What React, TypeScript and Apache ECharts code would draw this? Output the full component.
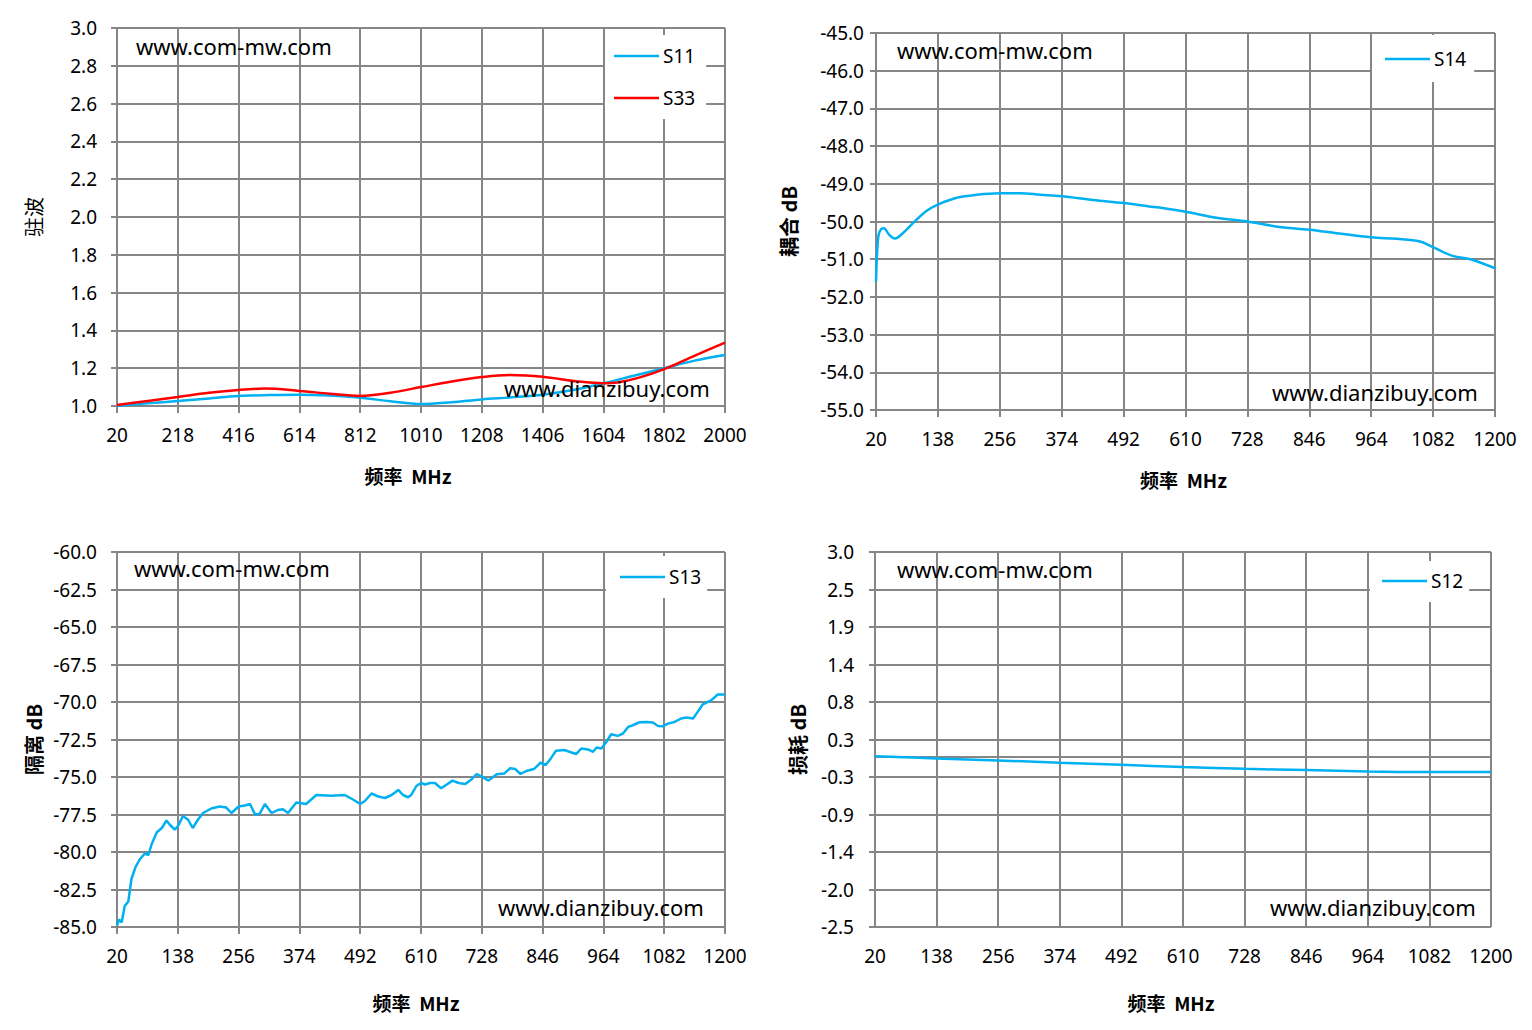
import React, { useEffect, useRef } from 'react';
import * as echarts from 'echarts';

// frequency axes (MHz)
const wideFreqTicks = [20, 218, 416, 614, 812, 1010, 1208, 1406, 1604, 1802, 2000];
const freqTicks = [20, 138, 256, 374, 492, 610, 728, 846, 964, 1082, 1200];

// y tick labels
const vswrTicks = ['1.0', '1.2', '1.4', '1.6', '1.8', '2.0', '2.2', '2.4', '2.6', '2.8', '3.0'];
const couplingTicks = ['-55.0', '-54.0', '-53.0', '-52.0', '-51.0', '-50.0', '-49.0', '-48.0', '-47.0', '-46.0', '-45.0'];
const isolationTicks = ['-85.0', '-82.5', '-80.0', '-77.5', '-75.0', '-72.5', '-70.0', '-67.5', '-65.0', '-62.5', '-60.0'];
const lossTicks = ['-2.5', '-2.0', '-1.4', '-0.9', '-0.3', '0.3', '0.8', '1.4', '1.9', '2.5', '3.0'];

// 驻波
const s11Freq = [20, 120, 218, 320, 416, 515, 614, 712, 812, 910, 1010, 1110, 1208, 1307, 1406, 1505, 1604, 1703, 1802, 1901, 2000];
const s11Vswr = [1.0, 1.014, 1.026, 1.04, 1.053, 1.058, 1.06, 1.055, 1.044, 1.025, 1.01, 1.02, 1.035, 1.046, 1.06, 1.085, 1.12, 1.16, 1.2, 1.24, 1.27];
const s33Freq = [20, 120, 218, 320, 416, 500, 614, 712, 812, 910, 1010, 1110, 1208, 1300, 1406, 1520, 1604, 1650, 1720, 1802, 1900, 2000];
const s33Vswr = [1.005, 1.027, 1.048, 1.07, 1.085, 1.092, 1.08, 1.065, 1.053, 1.07, 1.1, 1.13, 1.153, 1.164, 1.155, 1.13, 1.12, 1.124, 1.15, 1.195, 1.265, 1.335];

// 耦合 dB
const s14Freq = [20, 22, 25, 30, 35, 45, 56, 72, 90, 116, 138, 174, 212, 256, 294, 334, 374, 434, 492, 541, 560, 610, 669, 728, 782, 846, 898, 964, 1013, 1057, 1082, 1121, 1153, 1200];
const s14Db = [-51.6, -50.85, -50.35, -50.2, -50.18, -50.35, -50.45, -50.3, -50.05, -49.72, -49.55, -49.37, -49.29, -49.25, -49.25, -49.29, -49.33, -49.43, -49.51, -49.6, -49.63, -49.74, -49.9, -50.0, -50.13, -50.22, -50.31, -50.42, -50.46, -50.53, -50.68, -50.92, -51.0, -51.24];

// 隔离 dB
const s13Freq = [20, 24, 29, 35, 42, 48, 56, 64, 74, 81, 87, 97, 107, 116, 123, 132, 138, 148, 158, 167, 177, 187, 203, 219, 232, 242, 256, 268, 278, 288, 297, 307, 320, 332, 342, 352, 368, 387, 407, 436, 462, 478, 492, 501, 514, 527, 540, 553, 566, 575, 585, 591, 601, 610, 618, 627, 637, 649, 660, 671, 683, 696, 709, 718, 728, 741, 757, 772, 783, 793, 803, 816, 829, 842, 852, 862, 872, 888, 898, 911, 921, 934, 944, 951, 960, 970, 979, 992, 1002, 1012, 1021, 1034, 1047, 1060, 1070, 1079, 1089, 1102, 1115, 1125, 1138, 1147, 1157, 1173, 1186, 1200];
const s13Db = [-84.9, -84.5, -84.7, -83.6, -83.3, -81.8, -81.0, -80.5, -80.1, -80.2, -79.5, -78.7, -78.4, -77.9, -78.2, -78.5, -78.3, -77.6, -77.85, -78.4, -77.85, -77.4, -77.1, -76.97, -77.04, -77.4, -76.97, -76.9, -76.8, -77.5, -77.45, -76.8, -77.4, -77.2, -77.15, -77.4, -76.7, -76.8, -76.2, -76.25, -76.2, -76.5, -76.8, -76.6, -76.1, -76.3, -76.4, -76.2, -75.86, -76.2, -76.35, -76.2, -75.6, -75.4, -75.5, -75.4, -75.4, -75.75, -75.5, -75.24, -75.4, -75.46, -75.13, -74.8, -74.98, -75.24, -74.82, -74.76, -74.42, -74.47, -74.8, -74.58, -74.47, -74.05, -74.2, -73.76, -73.25, -73.2, -73.32, -73.47, -73.1, -73.16, -73.32, -73.03, -73.1, -72.65, -72.15, -72.26, -72.1, -71.66, -71.55, -71.35, -71.33, -71.37, -71.6, -71.62, -71.44, -71.33, -71.1, -71.04, -71.1, -70.66, -70.15, -69.89, -69.5, -69.5];

// 损耗 dB
const s12Freq = [20, 138, 256, 374, 492, 610, 728, 846, 964, 1082, 1200];
const s12Db = [0.005, -0.027, -0.057, -0.09, -0.12, -0.154, -0.18, -0.198, -0.22, -0.227, -0.227];

const grey = '#868686';
const blue = '#00B0F0';
const red = '#FF0000';
const labelFont = 'Noto Sans';
const cjkFont = 'Noto Sans CJK SC';

const pairs = (xs: number[], ys: number[]) => xs.map((x, i) => [x, ys[i]]);

// shift: how far the axis name sits left of the plot centre
function xAxisFor(ticks: number[], gridIndex: number, nameGap: number, shift: number) {
  const min = ticks[0];
  const max = ticks[ticks.length - 1];
  const interval = ticks[1] - ticks[0];
  return {
    type: 'value',
    gridIndex,
    min,
    max,
    interval,
    name: '频率  MHz',
    nameLocation: 'middle',
    nameGap,
    nameTextStyle: {
      fontFamily: cjkFont,
      fontWeight: 'bold',
      fontSize: 19,
      color: '#000',
      padding: [0, shift * 2, 0, 0],
    },
    axisLine: { lineStyle: { color: grey, width: 2 } },
    axisTick: { show: true, length: 7, lineStyle: { color: grey, width: 2 } },
    axisLabel: {
      margin: 19,
      fontFamily: labelFont,
      fontSize: 19,
      color: '#000',
      formatter: (v: number) => String(ticks[Math.round((v - min) / interval)] ?? ''),
    },
    splitLine: { show: true, lineStyle: { color: grey, width: 2 } },
  };
}

function yAxisFor(labels: string[], gridIndex: number, name: string, nameGap: number, margin: number, nameStyle: any) {
  const min = parseFloat(labels[0]);
  const max = parseFloat(labels[labels.length - 1]);
  const interval = (max - min) / (labels.length - 1);
  return {
    type: 'value',
    gridIndex,
    min,
    max,
    interval,
    name,
    nameLocation: 'middle',
    nameRotate: 90,
    nameGap,
    nameTextStyle: { fontFamily: cjkFont, fontSize: 20, color: '#000', ...nameStyle },
    axisLine: { show: true, lineStyle: { color: grey, width: 2 } },
    axisTick: { show: true, length: 6, lineStyle: { color: grey, width: 2 } },
    axisLabel: {
      margin,
      fontFamily: labelFont,
      fontSize: 19,
      color: '#000',
      formatter: (v: number) => labels[Math.round((v - min) / interval)] ?? '',
    },
    splitLine: { show: true, lineStyle: { color: grey, width: 2 } },
  };
}

function legendAt(names: string[], left: number, top: number, padding: number[]) {
  return {
    data: names,
    orient: 'vertical',
    left,
    top,
    padding,
    itemGap: 22,
    itemWidth: 45,
    itemHeight: 2.5,
    icon: 'rect',
    backgroundColor: '#fff',
    textStyle: { fontFamily: labelFont, fontSize: 19, lineHeight: 20, color: '#000', padding: [0, 0, 0, -1] },
  };
}

function lineSeries(name: string, color: string, axis: number, data: number[][], smooth: boolean) {
  return {
    type: 'line',
    name,
    xAxisIndex: axis,
    yAxisIndex: axis,
    data,
    symbol: 'none',
    smooth: smooth ? 0.35 : false,
    lineStyle: { color, width: 2.5 },
    itemStyle: { color },
  };
}

function stamp(text: string, x: number, y: number) {
  return {
    type: 'text',
    x,
    y,
    z: 10,
    style: { text, fill: '#000', font: '22px "Noto Sans"', verticalAlign: 'middle', align: 'left' },
  };
}

const App: React.FC = () => {
  const chartRef = useRef<HTMLDivElement>(null);

  useEffect(() => {
    if (!chartRef.current) return;
    const chart = echarts.init(chartRef.current, undefined, { renderer: 'svg' });

    const option = {
      animation: false,
      backgroundColor: '#fff',
      grid: [
        { left: 117, top: 28, width: 608, height: 378, containLabel: false, outerBoundsMode: 'none' },
        { left: 876, top: 33, width: 619, height: 377, containLabel: false, outerBoundsMode: 'none' },
        { left: 117, top: 552, width: 608, height: 375, containLabel: false, outerBoundsMode: 'none' },
        { left: 875, top: 552, width: 616, height: 375, containLabel: false, outerBoundsMode: 'none' },
      ],
      xAxis: [
        xAxisFor(wideFreqTicks, 0, 60, 13),
        xAxisFor(freqTicks, 1, 60, 2),
        xAxisFor(freqTicks, 2, 66, 5),
        xAxisFor(freqTicks, 3, 66, 12),
      ],
      yAxis: [
        yAxisFor(vswrTicks, 0, '驻波', 74, 20, { fontWeight: 'normal' }),
        yAxisFor(couplingTicks, 1, '耦合 dB', 78, 12, { fontWeight: 'bold' }),
        yAxisFor(isolationTicks, 2, '隔离 dB', 74, 20, { fontWeight: 'bold' }),
        yAxisFor(lossTicks, 3, '损耗 dB', 68, 21, { fontWeight: 'bold' }),
      ],
      legend: [
        legendAt(['S11', 'S33'], 605, 35, [11, 11, 11, 9]),
        legendAt(['S14'], 1372, 35, [14, 8, 13, 13]),
        legendAt(['S13'], 606, 556, [11, 6, 11, 14]),
        legendAt(['S12'], 1370, 561, [10, 6, 11, 12]),
      ],
      graphic: [
        stamp('www.com-mw.com', 136, 46),
        stamp('www.dianzibuy.com', 504, 388),
        stamp('www.com-mw.com', 897, 50),
        stamp('www.dianzibuy.com', 1272, 392),
        stamp('www.com-mw.com', 134, 568),
        stamp('www.dianzibuy.com', 498, 907),
        stamp('www.com-mw.com', 897, 569),
        stamp('www.dianzibuy.com', 1270, 907),
      ],
      series: [
        lineSeries('S11', blue, 0, pairs(s11Freq, s11Vswr), true),
        lineSeries('S33', red, 0, pairs(s33Freq, s33Vswr), true),
        lineSeries('S14', blue, 1, pairs(s14Freq, s14Db), true),
        lineSeries('S13', blue, 2, pairs(s13Freq, s13Db), false),
        lineSeries('S12', blue, 3, pairs(s12Freq, s12Db), true),
      ],
    };

    chart.setOption(option as any);
    return () => chart.dispose();
  }, []);

  return (
    <div
      ref={chartRef}
      style={{ position: 'absolute', left: 0, top: 0, width: '1532px', height: '1030px' }}
    />
  );
};

export default App;
